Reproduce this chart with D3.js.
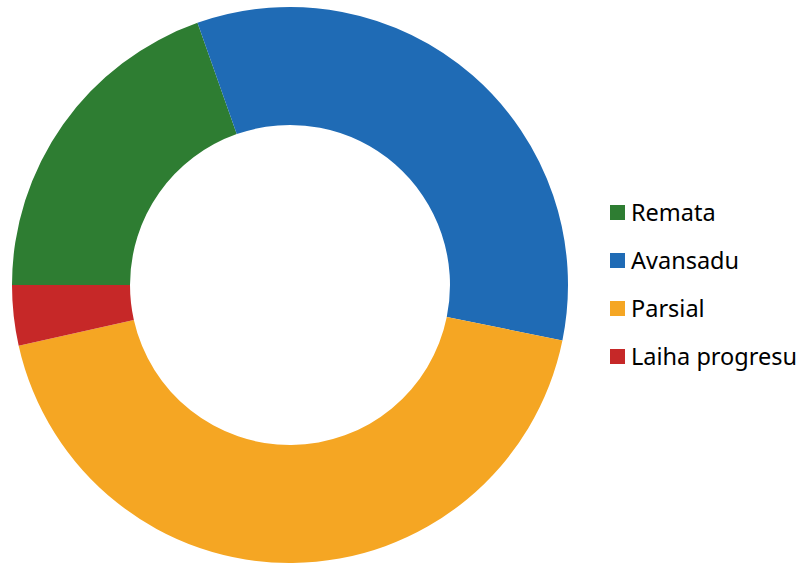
<!DOCTYPE html>
<html>
<head>
<meta charset="utf-8">
<script src="https://cdn.jsdelivr.net/npm/d3@7"></script>
<style>
  body { margin: 0; background: #fff; }
  svg { display: block; }
</style>
</head>
<body>
<div id="chart"></div>
<script>
const categories = ["Remata", "Avansadu", "Parsial", "Laiha progresu"];
const values = [19.6, 33.6, 43.3, 3.5];
const colors = ["#2E7D32", "#1F6BB5", "#F5A623", "#C62828"];

const width = 805;
const height = 563;
const cx = 290, cy = 285;
const outerR = 278, innerR = 160;

const svg = d3
  .select("#chart")
  .append("svg")
  .attr("width", width)
  .attr("height", height)
  .attr("viewBox", [0, 0, width, height]);

const data = categories.map((c, i) => ({ name: c, value: values[i], color: colors[i] }));

// first slice starts at 9 o'clock, going clockwise
const pie = d3
  .pie()
  .sort(null)
  .value((d) => d.value)
  .startAngle(-Math.PI / 2)
  .endAngle((3 * Math.PI) / 2);

const arc = d3.arc().innerRadius(innerR).outerRadius(outerR);

svg
  .append("g")
  .attr("transform", `translate(${cx},${cy})`)
  .selectAll("path")
  .data(pie(data))
  .join("path")
  .attr("fill", (d) => d.data.color)
  .attr("d", arc);

// legend
const legend = svg
  .append("g")
  .attr("transform", "translate(610,212.5)")
  .selectAll("g")
  .data(data)
  .join("g")
  .attr("transform", (d, i) => `translate(0,${i * 48})`);

legend
  .append("rect")
  .attr("x", 0)
  .attr("y", -7.5)
  .attr("width", 15)
  .attr("height", 15)
  .attr("fill", (d) => d.color);

legend
  .append("text")
  .attr("x", 21)
  .attr("y", 0)
  .attr("dy", "0.36em")
  .attr("font-family", "'Noto Sans', sans-serif")
  .attr("font-size", 23.5)
  .attr("fill", "#000")
  .text((d) => d.name);
</script>
</body>
</html>
